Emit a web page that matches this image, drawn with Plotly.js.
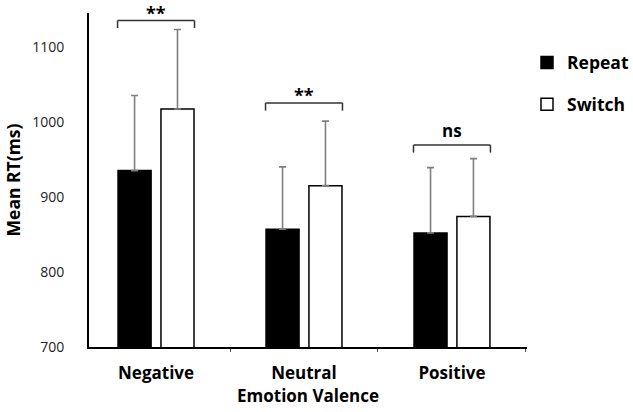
<!DOCTYPE html>
<html><head><meta charset="utf-8">
<script src="https://cdn.plot.ly/plotly-3.0.1.min.js"></script>
<style>html,body{margin:0;padding:0;background:#fff}#chart{width:633px;height:412px}</style>
</head><body><div id="chart"></div>
<script>
const categories = ['Negative', 'Neutral', 'Positive'];
const repeatMeans = [935, 857, 852];
const repeatErr = [100, 83, 87];
const switchMeans = [1017, 915, 874];
const switchErr = [106, 86, 77];
const bracketY = [1135, 1025, 969];
const bracketLabels = ['**', '**', 'ns'];
const yTicks = [700, 800, 900, 1000, 1100];

const FONT = '"Open Sans", "Noto Sans", sans-serif';
const zeros = categories.map(() => 0);
const errStyle = {color: '#7f7f7f', thickness: 1.6, width: 3.5};

const traces = [
  {type: 'bar', name: 'Repeat', x: categories, y: repeatMeans, legendgroup: 'r',
   marker: {color: '#000', line: {color: '#000', width: 1.5}},
   error_y: Object.assign({type: 'data', array: repeatErr, arrayminus: zeros, symmetric: false}, errStyle)},
  {type: 'bar', name: 'Switch', x: categories, y: switchMeans, legendgroup: 's',
   marker: {color: '#fff', line: {color: '#000', width: 1.5}},
   error_y: Object.assign({type: 'data', array: switchErr, arrayminus: zeros, symmetric: false}, errStyle)}
];

const shapes = [];
const annotations = [];
const half = 0.26, drop = 10;
categories.forEach((c, i) => {
  const ln = {color: '#333', width: 1.5};
  shapes.push({type: 'line', xref: 'x', yref: 'y', x0: i - half, x1: i + half, y0: bracketY[i], y1: bracketY[i], line: ln});
  shapes.push({type: 'line', xref: 'x', yref: 'y', x0: i - half, x1: i - half, y0: bracketY[i], y1: bracketY[i] - drop, line: ln});
  shapes.push({type: 'line', xref: 'x', yref: 'y', x0: i + half, x1: i + half, y0: bracketY[i], y1: bracketY[i] - drop, line: ln});
  const isNs = bracketLabels[i] === 'ns';
  annotations.push({xref: 'x', yref: 'y', x: i, y: bracketY[i], yanchor: 'bottom', yshift: isNs ? 1 : -6,
    text: bracketLabels[i], showarrow: false,
    font: {family: FONT, size: isNs ? 17 : 18, color: '#000', weight: 'bold'}});
});

const layout = {
  width: 633, height: 412,
  margin: {l: 89, r: 106, t: 13, b: 65, autoexpand: false},
  paper_bgcolor: '#fff', plot_bgcolor: '#fff',
  barmode: 'group', bargap: 0.42, bargroupgap: 0.23,
  showlegend: true,
  legend: {x: 1.0, xanchor: 'left', y: 0.905, yanchor: 'top',
    font: {family: FONT, size: 17.5, color: '#000', weight: 'bold'},
    traceorder: 'grouped', tracegroupgap: 16, itemwidth: 30},
  xaxis: {type: 'category', range: [-0.453, 2.507], showgrid: false, zeroline: false,
    showline: true, linecolor: '#000', linewidth: 2,
    ticks: 'outside', tickson: 'boundaries', ticklen: 3, tickcolor: '#555', tickwidth: 1,
    ticklabelstandoff: 10,
    tickfont: {family: FONT, size: 17, color: '#000', weight: 'bold'},
    title: {text: 'Emotion Valence', font: {family: FONT, size: 17, color: '#000', weight: 'bold'}, standoff: 4}},
  yaxis: {range: [700, 1145], showgrid: false, zeroline: false,
    showline: true, linecolor: '#000', linewidth: 2,
    tickvals: yTicks, ticktext: yTicks.map(String),
    ticks: 'outside', ticklen: 20, tickcolor: 'rgba(0,0,0,0)',
    tickfont: {family: FONT, size: 14, color: '#222'},
    title: {text: 'Mean RT(ms)', font: {family: FONT, size: 17.5, color: '#000', weight: 'bold'}, standoff: 7}},
  shapes: shapes,
  annotations: annotations
};

Plotly.newPlot('chart', traces, layout, {displayModeBar: false, staticPlot: true});
</script>
</body></html>
